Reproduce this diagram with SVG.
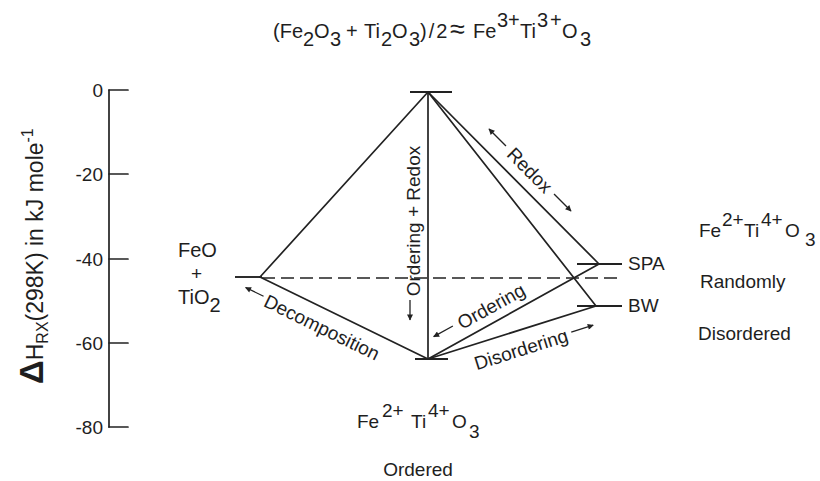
<svg xmlns="http://www.w3.org/2000/svg" width="820" height="481" viewBox="0 0 820 481">
<defs>
<marker id="ah" viewBox="0 0 10 10" refX="9" refY="5" markerWidth="7" markerHeight="6" orient="auto" markerUnits="userSpaceOnUse">
<path d="M0,0 L10,5 L0,10 z" fill="#222"/>
</marker>
<style>
.t{font-family:"Liberation Sans",Arial,Helvetica,sans-serif;font-size:19px;fill:#1e1e1e}
.m{text-anchor:middle}
.e{text-anchor:end}
.ln{stroke:#222;stroke-width:1.7;fill:none;stroke-linecap:round}
.bar{stroke:#222;stroke-width:1.9}
.dash{stroke:#222;stroke-width:1.7;stroke-dasharray:13 6}
.la{stroke:#222;stroke-width:1.3;marker-end:url(#ah)}
</style>
</defs>
<rect width="820" height="481" fill="#fff"/>

<g id="title">
<text class="t" y="38" style="font-size:20px"><tspan x="273">(Fe</tspan><tspan x="303" y="46">2</tspan><tspan x="314" y="38">O</tspan><tspan x="330" y="46">3</tspan><tspan x="346" y="38">+</tspan><tspan x="364" y="38">Ti</tspan><tspan x="381" y="46">2</tspan><tspan x="392" y="38">O</tspan><tspan x="409" y="46">3</tspan><tspan x="420" y="38" letter-spacing="2">)/2</tspan><tspan x="450" y="38" style="font-size:27px">≈</tspan><tspan x="473" y="38">Fe</tspan><tspan x="497" y="27">3+</tspan><tspan x="520" y="38">Ti</tspan><tspan x="537" y="27">3</tspan><tspan x="550" y="27">+</tspan><tspan x="562" y="38">O</tspan><tspan x="580" y="46">3</tspan></text>
</g>

<g id="axis">
<line class="ln" x1="109" y1="90" x2="109" y2="427"/>
<line class="ln" x1="109" y1="90" x2="128" y2="90"/>
<line class="ln" x1="109" y1="174" x2="128" y2="174"/>
<line class="ln" x1="109" y1="259" x2="128" y2="259"/>
<line class="ln" x1="109" y1="343" x2="128" y2="343"/>
<line class="ln" x1="109" y1="427" x2="128" y2="427"/>
<text class="t e" x="103" y="97">0</text>
<text class="t e" x="103" y="181">-20</text>
<text class="t e" x="103" y="266">-40</text>
<text class="t e" x="103" y="350">-60</text>
<text class="t e" x="103" y="434">-80</text>
<text class="t" transform="translate(43,384) rotate(-90)" style="font-size:23px"><tspan style="font-size:33px;font-weight:bold">Δ</tspan><tspan>H</tspan><tspan dy="5" style="font-size:16px">RX</tspan><tspan dy="-5">(298K) in kJ mole</tspan><tspan dy="-10" style="font-size:16px">-1</tspan></text>
</g>

<g id="connectors">
<line class="ln" x1="428" y1="92" x2="260" y2="277"/>
<line class="ln" x1="260" y1="277" x2="428" y2="359"/>
<line class="ln" x1="428" y1="92" x2="428" y2="359"/>
<line class="ln" x1="428" y1="92" x2="599" y2="264"/>
<line class="ln" x1="428" y1="92" x2="596" y2="306"/>
<line class="ln" x1="428" y1="359" x2="599" y2="264"/>
<line class="ln" x1="428" y1="359" x2="596" y2="306"/>
<line class="dash" x1="262" y1="278" x2="622" y2="278"/>
</g>

<g id="node-top">
<line class="bar" x1="410" y1="92" x2="452" y2="92"/>
</g>

<g id="node-left">
<line class="bar" x1="235" y1="277" x2="262" y2="277"/>
<text class="t" x="178" y="257" style="font-size:20px">FeO</text>
<text class="t" x="191" y="280">+</text>
<text class="t" x="178" y="304" style="font-size:20px">TiO<tspan y="312">2</tspan></text>
</g>

<g id="node-bottom">
<line class="bar" x1="415" y1="359" x2="448" y2="359"/>
<text class="t" y="428"><tspan x="357">Fe</tspan><tspan x="382" y="417">2+</tspan><tspan x="411" y="428">Ti</tspan><tspan x="428" y="417">4+</tspan><tspan x="452" y="428">O</tspan><tspan x="469" y="438">3</tspan></text>
<text class="t m" x="418" y="476">Ordered</text>
</g>

<g id="node-spa">
<line class="bar" x1="577" y1="264" x2="622" y2="264"/>
<text class="t" x="628" y="270">SPA</text>
</g>

<g id="node-bw">
<line class="bar" x1="577" y1="306" x2="622" y2="306"/>
<text class="t" x="628" y="312">BW</text>
</g>

<g id="node-random">
<text class="t" y="237"><tspan x="699">Fe</tspan><tspan x="722" y="226">2+</tspan><tspan x="744" y="237">Ti</tspan><tspan x="761" y="226">4+</tspan><tspan x="785" y="237">O</tspan><tspan x="805" y="246">3</tspan></text>
<text class="t" x="700" y="288">Randomly</text>
<text class="t" x="698" y="340">Disordered</text>
</g>

<g id="edge-labels">
<g transform="translate(530,170) rotate(45)">
<text class="t m" x="0" y="7">Redox</text>
<line class="la" x1="-34" y1="0" x2="-58" y2="0"/>
<line class="la" x1="34" y1="0" x2="58" y2="0"/>
</g>
<g transform="translate(413,221) rotate(-90)">
<text class="t m" x="0" y="7">Ordering + Redox</text>
<line class="la" x1="-79" y1="-3" x2="-99" y2="-3"/>
</g>
<g transform="translate(322,327) rotate(26)">
<text class="t m" x="0" y="7">Decomposition</text>
<line class="la" x1="-66" y1="-2" x2="-86" y2="-2"/>
</g>
<g transform="translate(491,306) rotate(-29)">
<text class="t m" x="0" y="7">Ordering</text>
<line class="la" x1="-43" y1="-1" x2="-65" y2="-1"/>
</g>
<g transform="translate(521,349) rotate(-17.5)">
<text class="t m" x="0" y="7">Disordering</text>
<line class="la" x1="53" y1="-1" x2="76" y2="-1"/>
</g>
</g>
</svg>
